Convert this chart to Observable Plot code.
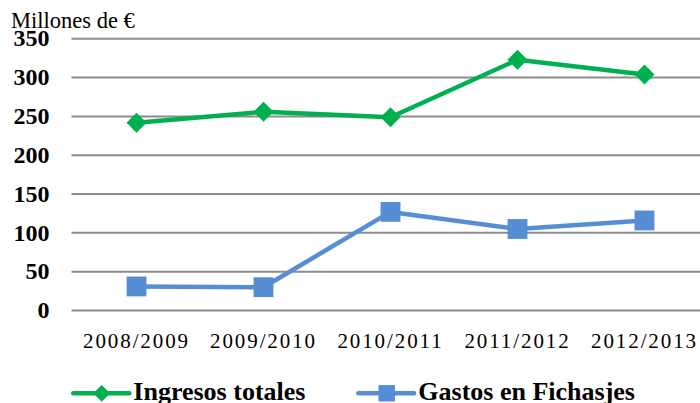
<!DOCTYPE html>
<html>
<head>
<meta charset="utf-8">
<script src="https://cdn.jsdelivr.net/npm/d3@7"></script>
<script src="https://cdn.jsdelivr.net/npm/@observablehq/plot@0.6"></script>
<style>
  html, body { margin: 0; padding: 0; background: #fff; }
  #wrap { position: relative; width: 700px; height: 403px; overflow: hidden; font-family: "Liberation Serif", "Times New Roman", Times, "DejaVu Serif", serif; }
  #unit { position: absolute; left: 11px; top: 9.5px; font-size: 22.5px; line-height: 1; color: #000; white-space: nowrap; }
  #legend { display: block; }
  svg text { font-family: "Liberation Serif", "Times New Roman", Times, "DejaVu Serif", serif; }
</style>
</head>
<body>
<div id="wrap">
  <div id="chart"></div>
  <div id="unit"></div>
  <svg id="legend" width="700" height="38"></svg>
</div>
<script>
// ---- data ----
const seasons = ["2008/2009", "2009/2010", "2010/2011", "2011/2012", "2012/2013"];
const ingresosTotales = [242, 256, 249, 323, 304];
const gastosFichajes = [31, 30, 127, 105, 116];
const seriesNames = ["Ingresos totales", "Gastos en Fichasjes"];
const yTicks = [0, 50, 100, 150, 200, 250, 300, 350];
const unitLabel = "Millones de €";

const colors = ["#00B050", "#558ED5"];
const symbols = ["diamond2", "square"];

const rows = [];
seasons.forEach((s, i) => rows.push({season: s, value: ingresosTotales[i], series: seriesNames[0]}));
seasons.forEach((s, i) => rows.push({season: s, value: gastosFichajes[i], series: seriesNames[1]}));

const font = '"Liberation Serif", "Times New Roman", Times, "DejaVu Serif", serif';

const chart = Plot.plot({
  width: 700,
  height: 365,
  marginLeft: 71.5,
  marginRight: -8,
  marginTop: 38.3,
  marginBottom: 55,
  style: {fontFamily: font, fontSize: "21px", color: "#000", background: "transparent", overflow: "visible"},
  x: {type: "point", domain: seasons, padding: 0.5},
  y: {domain: [0, 350]},
  color: {domain: seriesNames, range: colors},
  symbol: {domain: seriesNames, range: symbols},
  marks: [
    Plot.ruleY(yTicks, {stroke: "#8C8C8C", strokeWidth: 2}),
    Plot.axisY(yTicks, {tickSize: 0, tickPadding: 22.5, fontSize: 24, fontWeight: "bold", label: null}),
    Plot.axisX({tickSize: 0, tickPadding: 23, fontSize: 21, label: null}),
    Plot.line(rows, {x: "season", y: "value", z: "series", stroke: "series", strokeWidth: 4.5}),
    Plot.dot(rows.filter(d => d.series === seriesNames[0]), {x: "season", y: "value", symbol: "series", fill: "series", r: 9, stroke: "none"}),
    Plot.dot(rows.filter(d => d.series === seriesNames[1]), {x: "season", y: "value", symbol: "series", fill: "series", r: 11.2, stroke: "none"})
  ]
});
document.getElementById("chart").appendChild(chart);
document.getElementById("unit").textContent = unitLabel;

// letter spacing for x tick labels
chart.querySelectorAll('g[aria-label="x-axis tick label"] text').forEach(t => t.setAttribute("letter-spacing", "1.9"));

// ---- legend ----
const lg = d3.select("#legend");
const legendItems = [
  {name: seriesNames[0], color: colors[0], x0: 73.3, x1: 129.3, mx: 101.7, tx: 133.3, sym: d3.symbolDiamond2, size: 180},
  {name: seriesNames[1], color: colors[1], x0: 358.3, x1: 414, mx: 386.7, tx: 418.3, sym: d3.symbolSquare, size: 270}
];
const cy = 28.3;
legendItems.forEach(it => {
  lg.append("line").attr("x1", it.x0).attr("x2", it.x1).attr("y1", cy).attr("y2", cy)
    .attr("stroke", it.color).attr("stroke-width", 4.5).attr("stroke-linecap", "round");
  lg.append("path").attr("d", d3.symbol(it.sym, it.size)()).attr("transform", `translate(${it.mx},${cy})`).attr("fill", it.color);
  lg.append("text").attr("x", it.tx).attr("y", 35).text(it.name)
    .attr("font-size", 26).attr("font-weight", "bold").attr("fill", "#000");
});
</script>
</body>
</html>
